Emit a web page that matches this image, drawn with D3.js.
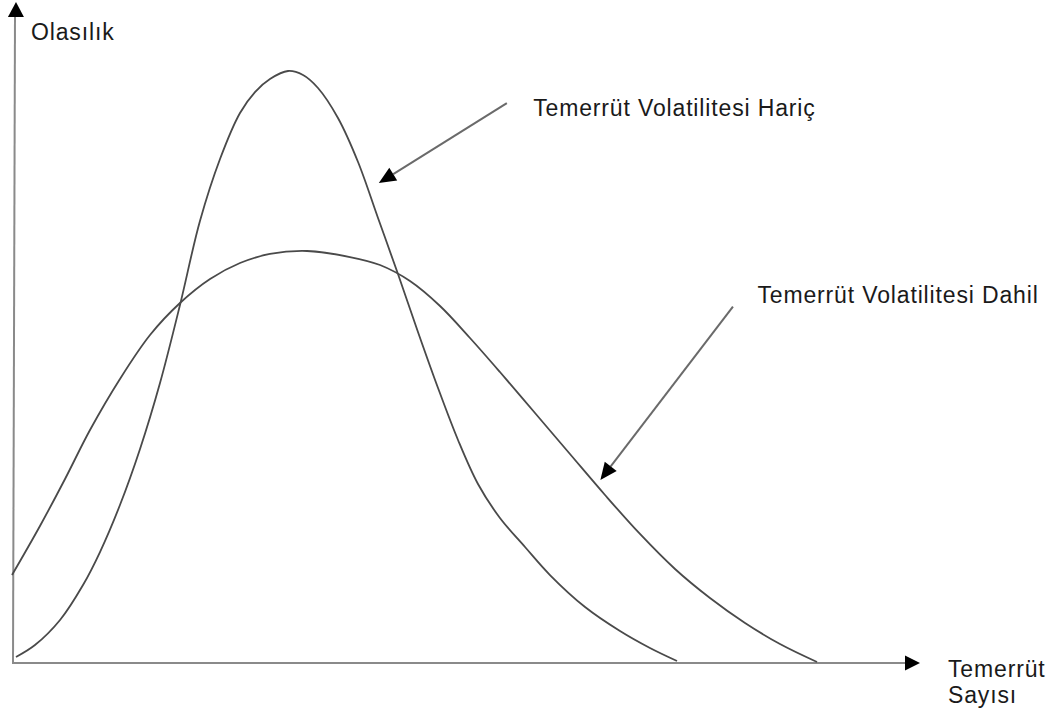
<!DOCTYPE html>
<html>
<head>
<meta charset="utf-8">
<script src="https://cdn.jsdelivr.net/npm/d3@7"></script>
<style>
  html, body { margin: 0; padding: 0; background: #fff; }
  svg { display: block; }
  text { font-family: "Liberation Sans", Arial, sans-serif; fill: #1a1a1a; letter-spacing: 0.85px; }
</style>
</head>
<body>
<script>
// ---- Data (conceptual chart, arbitrary units) ----
// Temerrüt Volatilitesi Hariç (narrow distribution)
const haricX = [0.44, 2.53, 5.29, 7.82, 9.69, 11.89, 14.10, 16.30, 18.50, 20.70, 22.91, 25.11, 26.76, 28.41, 30.40, 32.05, 33.70, 35.90, 38.11, 40.31, 42.51, 44.71, 46.92, 49.12, 51.32, 53.74, 56.50, 59.25, 63.11, 66.96, 70.26, 73.24];
const haricY = [0.91, 2.72, 6.51, 11.80, 16.79, 23.90, 32.38, 42.36, 54.16, 66.87, 76.25, 83.21, 86.38, 88.35, 89.56, 88.96, 86.99, 82.45, 75.79, 67.32, 58.85, 50.08, 41.60, 33.74, 27.08, 21.94, 17.55, 13.31, 8.47, 4.84, 2.27, 0.30];
// Temerrüt Volatilitesi Dahil (wide distribution)
const dahilX = [0, 3.08, 5.84, 8.59, 11.89, 15.20, 18.50, 21.81, 25.11, 28.41, 32.49, 37.22, 40.53, 43.83, 47.14, 50.44, 53.74, 57.60, 61.45, 65.31, 69.16, 73.02, 76.87, 80.73, 84.58, 88.66];
const dahilY = [13.31, 20.73, 27.84, 35.25, 42.97, 49.62, 54.46, 58.09, 60.51, 61.88, 62.33, 61.42, 60.21, 57.79, 54.01, 49.17, 44.02, 37.82, 31.62, 25.42, 19.52, 14.22, 9.83, 6.05, 2.87, 0.15];

// Annotations: label, label anchor, arrow start, arrow end (data units)
const annLabels = ["Temerrüt Volatilitesi Hariç", "Temerrüt Volatilitesi Dahil"];
const annTextX = [57.4, 82.1];
const annTextY = [82.7, 54.5];
const annFromX = [54.5, 79.4];
const annFromY = [84.7, 53.9];
const annToX = [40.4, 64.8];
const annToY = [72.6, 27.7];

const yAxisLabel = "Olasılık";
const xAxisLabel = ["Temerrüt", "Sayısı"];

// ---- Layout ----
const W = 1062, H = 716;
const x = d3.scaleLinear().domain([0, 100]).range([12, 920]);
const y = d3.scaleLinear().domain([0, 100]).range([663, 2]);

const svg = d3.select("body").append("svg").attr("width", W).attr("height", H);

// Axes (line + arrowhead)
const axisColor = "#8a8a8a";
svg.append("line")
  .attr("x1", x(0)).attr("y1", y(0))
  .attr("x2", x(100) - 14).attr("y2", y(0))
  .attr("stroke", axisColor).attr("stroke-width", 2);
svg.append("line")
  .attr("x1", x(0) + 1).attr("y1", y(0))
  .attr("x2", x(0) + 3).attr("y2", y(100) + 12)
  .attr("stroke", axisColor).attr("stroke-width", 2);

function head(tipX, tipY, fromX, fromY, len, half) {
  const dx = tipX - fromX, dy = tipY - fromY;
  const L = Math.hypot(dx, dy), ux = dx / L, uy = dy / L;
  const bx = tipX - ux * len, by = tipY - uy * len;
  return [[tipX, tipY], [bx - uy * half, by + ux * half], [bx + uy * half, by - ux * half]];
}
function drawHead(pts) {
  svg.append("polygon").attr("points", pts.map(p => p.join(",")).join(" ")).attr("fill", "#000");
}
drawHead(head(x(100), y(0), x(0), y(0), 15, 7.5));
drawHead(head(x(0) + 4, y(100), x(0) + 1, y(0), 15, 8));

// Curves
const line = d3.line()
  .x(d => x(d[0])).y(d => y(d[1]))
  .curve(d3.curveCatmullRom.alpha(0.5));
const curveColor = "#4a4a4a";
svg.append("path")
  .datum(dahilX.map((v, i) => [v, dahilY[i]]))
  .attr("d", line).attr("fill", "none")
  .attr("stroke", curveColor).attr("stroke-width", 1.8);
svg.append("path")
  .datum(haricX.map((v, i) => [v, haricY[i]]))
  .attr("d", line).attr("fill", "none")
  .attr("stroke", curveColor).attr("stroke-width", 1.8);

// Annotations
annLabels.forEach((lab, i) => {
  const fx = x(annFromX[i]), fy = y(annFromY[i]);
  const tx = x(annToX[i]), ty = y(annToY[i]);
  const hp = head(tx, ty, fx, fy, 17, 7.5);
  const bx = (hp[1][0] + hp[2][0]) / 2, by = (hp[1][1] + hp[2][1]) / 2;
  svg.append("line")
    .attr("x1", fx).attr("y1", fy).attr("x2", bx).attr("y2", by)
    .attr("stroke", "#6a6a6a").attr("stroke-width", 2);
  drawHead(hp);
  svg.append("text")
    .attr("x", x(annTextX[i])).attr("y", y(annTextY[i]))
    .attr("font-size", 23).text(lab);
});

// Axis labels
svg.append("text").attr("x", 31).attr("y", 40).attr("font-size", 23).text(yAxisLabel);
svg.append("text").attr("x", 948).attr("y", 677).attr("font-size", 23).text(xAxisLabel[0]);
svg.append("text").attr("x", 948).attr("y", 703).attr("font-size", 23).text(xAxisLabel[1]);
</script>
</body>
</html>
